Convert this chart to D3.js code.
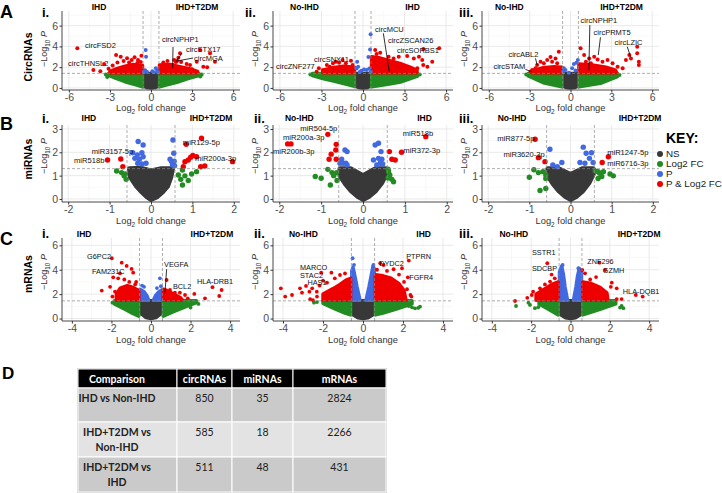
<!DOCTYPE html>
<html lang="en">
<head>
<meta charset="UTF-8" />
<title>Differential expression volcano plots</title>
<script src="https://d3js.org/d3.v7.min.js"></script>
<style>
  body { margin: 0; background: #fff; }
  svg { display: block; font-family: "Liberation Sans", Arial, sans-serif; }
  .tab { font-family: Lato, "Open Sans", sans-serif; }
</style>
</head>
<body>
<svg width="722" height="493"></svg>
<script>
// ---- data: [log2FC, -log10 P] ----
// dense clouds are kept as outlines, sparse points one by one

// A i. circRNAs, IHD vs IHD+T2DM
const circ1Ns   = [[-0.58,1.4],[0.58,1.4],[0.58,0.2],[0.3,0.03],[0,0],[-0.3,0.03],[-0.58,0.2]];
const circ1FcL  = [[-0.62,1.4],[-3.1,1.4],[-3.1,1.2],[-2.6,0.95],[-1.9,0.6],[-1.1,0.3],[-0.62,0.1]];
const circ1FcR  = [[0.62,1.4],[3.5,1.4],[3.5,1.2],[2.7,0.9],[1.9,0.55],[1.1,0.28],[0.62,0.1]];
const circ1SigL = [[-0.62,1.45],[-3.0,1.45],[-3.0,1.6],[-2.5,1.85],[-1.9,2.1],[-1.3,2.25],[-0.62,2.15]];
const circ1SigR = [[0.62,1.45],[3.4,1.45],[3.4,1.6],[2.8,1.85],[2.1,2.05],[1.4,2.25],[0.62,2.2]];
const circ1P    = [[-0.39,3.65],[-0.36,3.0],[-0.43,1.7],[-0.3,1.55],[0.1,1.6],[0.35,1.9],[0.45,1.65],[0.5,1.5],[-0.52,1.55],[0.2,1.5]];
const circ1Sig  = [[-5.38,3.81],[-4.21,1.72],[-3.43,2.3],[-3.1,1.85],[-2.8,2.15],[-2.55,3.17],[-2.21,3.0],[-2.0,2.6],[-1.75,2.85],
  [-1.41,2.69],[-1.2,2.95],[-0.95,2.7],[-0.75,2.5],[-2.45,2.45],[-3.7,1.6],[-1.6,2.45],[-0.7,3.1],[-1.0,2.4],
  [2.12,3.33],[1.7,2.7],[2.2,2.5],[2.6,2.3],[2.85,2.2],[3.34,2.52],[3.58,3.65],[3.82,2.04],[4.31,3.33],[4.67,2.52],
  [4.1,2.0],[1.2,2.6],[0.9,2.45],[2.0,2.9],[1.6,2.2],[3.0,1.8],[1.58,1.92],[1.9,2.59],[1.82,2.49]];
const circ1Fc   = [[-3.3,1.3],[3.7,1.3],[-3.2,1.05],[3.6,1.1]];
const circ1Lab  = [["circFSD2",-4.82,4.13],["circTHNSL2",-6.06,2.4],["circNPHP1",0.8,4.7,1.61,3.94,1.58,1.92],
  ["circSTX17",2.55,3.74,2.26,3.36,1.82,2.49],["circMGA",3.14,2.88,3.07,2.88,1.9,2.59]];

// A ii. circRNAs, No-IHD vs IHD
const circ2Ns   = [[-0.58,1.4],[0.58,1.4],[0.58,0.2],[0.3,0.03],[0,0],[-0.3,0.03],[-0.58,0.2]];
const circ2FcL  = [[-0.62,1.4],[-3.65,1.4],[-3.65,1.2],[-2.9,0.9],[-1.9,0.6],[-0.62,0.15]];
const circ2FcR  = [[0.62,1.4],[3.95,1.4],[3.95,1.15],[2.8,0.6],[1.8,0.35],[0.62,0.12]];
const circ2SigL = [[-0.62,1.45],[-2.9,1.45],[-2.9,1.7],[-2.2,1.95],[-1.4,2.1],[-0.62,2.0]];
const circ2SigR = [[0.62,1.45],[3.9,1.45],[3.9,1.7],[3.4,2.0],[2.8,2.3],[2.0,2.6],[1.2,2.9],[0.62,3.0]];
const circ2P    = [[0.55,5.16],[0.51,3.71],[0.39,2.97],[-0.42,2.52],[-0.35,2.04],[-0.11,1.66],[0.07,1.78],[0.27,1.72],
  [0.46,1.88],[0.56,1.55],[-0.23,1.55],[-0.47,1.88]];
const circ2Sig  = [[-3.19,1.89],[-2.61,2.2],[-2.17,2.37],[-1.73,2.43],[-1.24,2.37],[-0.75,2.2],[-2.9,1.7],[-3.35,1.55],
  [-2.4,2.05],[-1.48,2.69],[-1.97,2.53],[-0.87,2.62],
  [0.88,3.65],[0.98,3.26],[1.24,3.39],[1.85,3.0],[2.21,2.84],[2.58,3.0],[3.19,3.07],[3.67,2.84],[4.04,3.0],[4.28,2.68],
  [4.35,2.2],[4.65,2.05],[4.36,3.74],[5.5,3.81],[5.0,2.53],[3.92,1.89],[3.55,1.73]];
const circ2Fc   = [[-3.8,1.3],[4.1,1.3]];
const circ2Lab  = [["circMCU",0.87,5.65,1.47,5.26,1.9,1.56],["circZSCAN26",1.8,4.55],["circSORBS1",2.45,3.58],
  ["circSNX11",-3.54,2.78],["circZNF277",-6.28,2.11]];

// A iii. circRNAs, No-IHD vs IHD+T2DM
const circ3Ns   = [[-0.58,1.4],[0.58,1.4],[0.58,0.2],[0.3,0.03],[0,0],[-0.3,0.03],[-0.58,0.2]];
const circ3FcL  = [[-0.62,1.4],[-3.1,1.4],[-3.1,1.15],[-2.0,0.5],[-0.62,0.1]];
const circ3FcR  = [[0.62,1.4],[3.45,1.4],[3.45,1.1],[2.2,0.45],[0.62,0.1]];
const circ3SigL = [[-0.62,1.45],[-2.8,1.45],[-2.8,1.65],[-2.0,1.95],[-1.2,2.05],[-0.62,2.0]];
const circ3SigR = [[0.62,1.45],[3.4,1.45],[3.3,1.7],[2.6,2.0],[1.6,2.2],[0.62,2.3]];
const circ3P    = [[0.54,2.69],[0.44,2.43],[0.25,2.3],[0.12,1.89],[-0.37,1.73],[-0.49,1.89],[-0.56,1.57],[-0.12,1.47],[0.37,1.67]];
const circ3Sig  = [[-0.86,3.48],[-1.47,2.99],[-1.71,2.69],[-2.2,2.53],[-2.45,2.2],[-1.96,2.37],[-1.1,2.84],[-1.35,2.53],
  [-2.82,1.73],[-2.94,1.57],[-2.57,1.89],[-0.98,2.37],
  [0.74,3.81],[1.0,3.17],[1.37,2.84],[1.74,3.0],[1.99,2.75],[2.35,2.53],[2.72,2.69],[3.09,2.37],[3.46,2.04],[4.07,2.69],
  [4.32,3.17],[4.44,2.84],[4.9,3.97],[4.9,3.33],[5.02,2.53],[5.02,2.2],[3.83,1.89],[1.13,2.53],[1.5,2.37]];
const circ3Fc   = [[-3.25,1.3],[3.6,1.25]];
const circ3Lab  = [["circNPHP1",0.74,6.47,1.42,6.05,1.35,1.72],["circPRMT5",1.69,5.35,2.2,4.87,2.04,3.17],
  ["circLZIC",3.24,4.39,4.17,3.97,4.41,3.0],["circABL2",-4.56,3.26,-2.57,2.85,-2.45,2.2],
  ["circSTAM",-5.66,2.04,-3.31,1.79,-2.87,1.56]];

// B i. miRNAs, IHD vs IHD+T2DM
const mir1Ns  = [[0,-0.02],[0.15,0.1],[0.28,0.3],[0.4,0.55],[0.48,0.95],[0.52,1.3],[0.25,1.3],[0,1.2],[-0.25,1.32],
  [-0.52,1.3],[-0.5,0.95],[-0.35,0.55],[-0.22,0.3],[-0.1,0.1]];
const mir1Fc  = [[-0.83,1.2],[-0.71,1.13],[-0.62,1.07],[-0.65,0.99],[-0.6,0.84],[0.76,1.24],[0.98,1.07],[0.82,0.99],
  [0.72,0.84],[0.9,0.79],[0.76,0.6],[1.1,1.17],[0.66,1.03]];
const mir1P   = [[-0.31,2.46],[-0.19,2.31],[-0.44,1.98],[-0.33,1.89],[-0.22,1.98],[-0.39,1.74],[-0.28,1.7],[-0.19,1.81],
  [-0.32,1.53],[-0.22,1.5],[-0.12,1.53],[0.53,2.53],[0.55,1.96],[0.5,1.6],[0.54,1.53],[0.46,1.7],[0.56,1.62],[0.52,1.46],[0.57,1.42]];
const mir1Sig = [[-1.05,1.67],[-0.73,1.71],[-0.68,1.38],[0.85,2.34],[1.22,2.6],[0.96,1.79],[1.01,1.86],[0.9,1.67],
  [0.82,1.6],[0.78,1.38],[1.2,1.38],[1.3,1.41],[1.97,1.6],[1.1,1.81]];
const mir1Lab = [["miR518b",-1.86,1.67],["miR3157-5p",-1.43,2.03],["miR129-5p",0.77,2.41],["miR200a-3p",1.06,1.74]];

// B ii. miRNAs, No-IHD vs IHD
const mir2Ns  = [[0,-0.02],[0.15,0.12],[0.3,0.35],[0.45,0.7],[0.55,1.05],[0.55,1.3],[0.3,1.3],[0,1.0],[-0.3,1.3],
  [-0.55,1.3],[-0.55,1.0],[-0.42,0.65],[-0.28,0.35],[-0.12,0.1]];
const mir2Fc  = [[-1.14,0.96],[-1.0,0.89],[-0.78,0.6],[-0.84,1.27],[-0.74,1.13],[-0.63,1.13],[-0.62,0.79],[-0.7,1.0],
  [0.61,1.17],[0.64,1.03],[0.69,0.84],[0.73,0.74],[0.6,0.9],[0.6,1.28]];
const mir2P   = [[-0.43,2.1],[-0.38,2.03],[-0.51,1.7],[-0.48,1.53],[-0.41,1.53],[-0.38,1.46],[-0.55,1.53],[0.29,2.31],
  [0.37,2.39],[0.43,2.03],[0.25,1.67],[0.37,1.74],[0.45,1.7],[0.41,1.53],[0.33,1.46],[0.47,1.5]];
const mir2Sig = [[-1.8,2.36],[-1.72,2.36],[-0.84,2.77],[-0.64,2.34],[-0.65,2.1],[-0.76,1.92],[-0.64,1.7],[-0.81,1.7],
  [1.5,2.67],[0.63,2.03],[0.92,2.0],[0.69,1.7],[0.77,1.67]];
const mir2Lab = [["miR504-5p",-1.5,3.03],["miR200a-3p",-1.91,2.63],["miR200b-3p",-2.15,2.06],["miR518b",0.95,2.82],["miR372-3p",0.96,2.07]];

// B iii. miRNAs, No-IHD vs IHD+T2DM
const mir3Ns  = [[0,-0.02],[0.15,0.12],[0.3,0.35],[0.45,0.7],[0.55,1.05],[0.55,1.3],[0.3,1.3],[0,1.05],[-0.3,1.3],
  [-0.55,1.3],[-0.55,1.0],[-0.42,0.65],[-0.28,0.35],[-0.12,0.1]];
const mir3Fc  = [[-1.0,0.93],[-0.89,1.25],[-0.78,1.13],[-0.67,1.17],[-0.6,1.03],[-0.6,0.88],[-0.74,0.36],[-0.6,0.45],
  [0.67,1.17],[0.71,1.1],[0.76,0.96],[0.67,0.88],[0.96,1.07],[1.04,0.99],[0.8,1.17],[0.6,1.2]];
const mir3P   = [[-0.5,2.13],[-0.21,1.56],[-0.32,1.38],[-0.43,1.46],[0.31,2.22],[0.38,1.96],[0.51,1.98],[0.46,1.74],
  [0.23,1.56],[0.35,1.53],[0.55,1.56]];
const mir3Sig = [[-0.86,2.56],[-0.78,1.77],[-0.62,1.6],[0.92,1.81],[0.77,1.56]];
const mir3Lab = [["miR877-5p",-1.78,2.6],["miR3620-3p",-1.63,1.92],["miR1247-5p",0.89,1.98],["miR6716-3p",0.89,1.53]];

// C i. mRNAs, IHD vs IHD+T2DM
const m1Ns   = [[-0.58,1.45],[0.58,1.45],[0.58,0.5],[0.25,0.08],[0,0],[-0.25,0.08],[-0.58,0.5]];
const m1FcL  = [[-0.62,1.45],[-1.85,1.45],[-1.85,1.2],[-1.3,0.75],[-0.9,0.4],[-0.62,0.2]];
const m1FcR  = [[0.62,1.45],[2.3,1.45],[2.3,1.3],[1.8,1.0],[1.2,0.6],[0.62,0.2]];
const m1PL   = [[-0.56,1.5],[-0.12,1.5],[-0.2,1.85],[-0.35,2.2],[-0.56,2.4]];
const m1PR   = [[0.12,1.5],[0.56,1.5],[0.56,2.35],[0.4,2.2],[0.22,1.85]];
const m1SigL = [[-0.62,1.5],[-1.75,1.5],[-1.75,2.0],[-1.55,2.5],[-1.2,2.7],[-0.9,2.55],[-0.62,2.3]];
const m1SigR = [[0.62,1.5],[1.6,1.5],[1.5,1.7],[1.1,2.05],[0.8,2.3],[0.62,2.4]];
const m1P    = [[0.45,3.3],[-0.35,2.6],[0.3,2.5],[-0.45,2.7],[0.5,2.65]];
const m1Sig  = [[-1.98,4.94],[-1.48,4.58],[-1.23,4.31],[-0.98,4.07],[-0.9,3.76],[-1.57,3.71],[-2.49,2.29],[-1.91,3.38],
  [-1.66,3.3],[-1.35,3.2],[-0.75,3.0],[-2.07,2.6],[-1.82,2.2],[-1.1,3.0],[-0.8,2.8],[-1.95,1.8],
  [0.79,3.16],[0.96,2.34],[1.21,2.12],[1.46,2.12],[1.72,1.93],[2.19,2.02],[2.73,1.66],[3.11,2.57],[3.57,2.34],
  [3.45,1.85],[1.86,1.66],[0.71,2.12],[1.3,1.8]];
const m1Fc   = [[2.4,1.2],[2.0,0.9],[-1.95,1.3]];
const m1Lab  = [["G6PC2",-3.23,5.07],["FAM231C",-2.98,3.84],["VEGFA",0.66,4.45,0.79,4.04,0.71,2.12],["BCL2",1.11,2.67],["HLA-DRB1",2.32,3.08]];

// C ii. mRNAs, No-IHD vs IHD
const m2Ns   = [[-0.58,1.45],[0.58,1.45],[0.58,0.4],[0.25,0.06],[0,0],[-0.25,0.06],[-0.58,0.4]];
const m2FcL  = [[-0.62,1.45],[-2.0,1.45],[-2.0,1.25],[-1.4,0.8],[-0.9,0.45],[-0.62,0.3]];
const m2FcR  = [[0.62,1.45],[2.45,1.45],[2.45,1.2],[1.7,0.8],[1.0,0.45],[0.62,0.3]];
const m2PL   = [[-0.56,1.5],[-0.15,1.5],[-0.3,2.6],[-0.42,3.6],[-0.5,4.2],[-0.56,3.9]];
const m2PR   = [[0.15,1.5],[0.56,1.5],[0.56,4.1],[0.5,4.3],[0.42,3.6],[0.3,2.6]];
const m2SigL = [[-0.62,1.5],[-2.0,1.5],[-2.0,2.0],[-1.5,2.45],[-1.15,2.8],[-0.85,3.15],[-0.62,3.3]];
const m2SigR = [[0.62,1.5],[2.15,1.5],[2.05,2.3],[1.8,2.85],[1.4,3.3],[1.0,3.5],[0.62,3.6]];
const m2P    = [[-0.52,4.94],[0.52,4.39],[-0.45,4.4]];
const m2Sig  = [[-4.11,2.48],[-3.89,1.8],[-3.55,1.93],[-3.15,2.48],[-3.05,2.12],[-2.85,2.67],[-2.68,2.2],[-2.54,2.48],
  [-2.31,2.2],[-2.64,1.58],[-2.5,1.5],[-2.09,3.76],[-1.58,3.76],[-1.8,2.94],[-2.0,3.1],[-2.17,2.7],[-1.41,3.3],
  [-1.15,3.57],[-0.9,3.7],[-2.3,1.8],
  [1.53,4.04],[1.95,4.12],[2.29,4.75],[2.24,3.38],[2.37,1.93],[2.42,1.8],[1.03,4.39],[0.86,4.53],[1.8,3.6],
  [2.05,3.0],[2.2,2.4],[1.2,3.9],[0.7,4.0]];
const m2Fc   = [[2.29,1.03],[2.45,0.92],[2.6,0.84],[2.76,0.87],[2.85,0.97],[-2.3,1.35],[-2.45,1.3]];
const m2Lab  = [["MARCO",-3.15,4.2],["STAC2",-3.15,3.57],["HAS1",-2.78,2.94],["PTPRN",2.16,5.07],["DYDC2",0.81,4.48],["FGFR4",2.31,3.39]];

// C iii. mRNAs, No-IHD vs IHD+T2DM
const m3Ns   = [[-0.58,1.45],[0.58,1.45],[0.58,0.4],[0.25,0.06],[0,0],[-0.25,0.06],[-0.58,0.4]];
const m3FcL  = [[-0.62,1.45],[-1.6,1.45],[-1.6,1.2],[-1.1,0.75],[-0.62,0.3]];
const m3FcR  = [[0.62,1.45],[2.3,1.45],[2.3,1.2],[1.5,0.75],[0.62,0.3]];
const m3PL   = [[-0.56,1.5],[-0.15,1.5],[-0.28,2.6],[-0.36,3.6],[-0.45,4.3],[-0.56,3.8]];
const m3PR   = [[0.15,1.5],[0.56,1.5],[0.56,3.8],[0.45,4.1],[0.36,3.5],[0.28,2.6]];
const m3SigL = [[-0.62,1.5],[-1.75,1.5],[-1.75,2.0],[-1.3,2.45],[-0.95,2.8],[-0.62,3.0]];
const m3SigR = [[0.62,1.5],[1.9,1.5],[1.85,2.1],[1.5,2.55],[1.0,2.9],[0.62,3.0]];
const m3P    = [[-0.4,4.39],[0.4,4.12]];
const m3Sig  = [[-1.18,4.53],[-1.04,3.03],[-1.55,2.48],[-1.97,1.93],[-1.9,2.2],[-2.82,1.44],[-0.96,3.6],[-0.8,3.3],
  [-1.3,2.8],[-2.2,1.7],
  [0.6,3.98],[0.74,3.71],[1.47,4.58],[1.76,3.98],[2.1,2.94],[2.35,2.48],[3.32,1.93],[3.67,1.8],[2.35,1.6],
  [2.05,2.6],[1.3,3.4],[1.0,3.2],[2.6,1.6]];
const m3Fc   = [[-2.77,1.03],[-2.06,1.12],[-1.81,0.85],[-1.64,0.93],[-2.14,1.3],[2.52,0.9],[2.69,0.85],[2.6,1.03]];
const m3Lab  = [["SSTR1",-1.96,5.4],["SDCBP",-1.96,4.12],["ZNF296",0.85,4.68],["GZMH",1.64,3.96],["HLA-DQB1",2.66,2.26]];

// group labels above each panel: [text, log2FC position]
const headsA = [[["IHD",-3.8],["IHD+T2DM",3.36]], [["No-IHD",-4.23],["IHD",3.58]], [["No-IHD",-4.49],["IHD+T2DM",3.75]]];
const headsB = [[["IHD",-1.5],["IHD+T2DM",1.45]], [["No-IHD",-1.52],["IHD",1.47]], [["No-IHD",-1.42],["IHD+T2DM",1.69]]];
const headsC = [[["IHD",-3.38],["IHD+T2DM",3.08]], [["No-IHD",-2.98],["IHD",3.03]], [["No-IHD",-2.88],["IHD+T2DM",3.49]]];

const keyLabels = ["NS", "Log2 FC", "P", "P & Log2 FC"];
const keyGroups = ["ns", "fc", "p", "sig"];

const tableHead = ["Comparison", "circRNAs", "miRNAs", "mRNAs"];
const tableRows = [
  [["IHD vs Non-IHD"], 850, 35, 2824],
  [["IHD+T2DM vs", "Non-IHD"], 585, 18, 2266],
  [["IHD+T2DM vs", "IHD"], 511, 48, 431]
];

// ---- layout ----
const colors = { ns: "#383838", fc: "#228b22", p: "#4169e1", sig: "#ee0000" };
const cols = [[62, 240], [273, 453], [482, 659]];
const rowSpec = {
  A: { xd: [-6.5, 6.5], yd: [-0.2, 7.41], yr: [90, 11], xt: [-6,-3,0,3,6], xm: [-4.5,-1.5,1.5,4.5],
       yt: [0,2,4,6], ym: [1,3,5,7], pc: 1.4, r: 2, sw: 3.5, fs: 7.5,
       letter: "A", name: "CircRNAs", nameY: 57, letterY: 18, idxY: 17, idxX: [42,245,459], headY: 10, titleY: 111, yTitleY: 49 },
  B: { xd: [-2.15, 2.15], yd: [-0.13, 3.17], yr: [202, 125], xt: [-2,-1,0,1,2], xm: [-1.5,-0.5,0.5,1.5],
       yt: [0,1,2,3], ym: [0.5,1.5,2.5], pc: 1.3, r: 2.7, sw: 5, fs: 7.6,
       letter: "B", name: "miRNAs", nameY: 159, letterY: 130, idxY: 123, idxX: [42,254,459], headY: 121, titleY: 224, yTitleY: 156 },
  C: { xd: [-4.5, 4.5], yd: [-0.2, 6.6], yr: [321, 238], xt: [-4,-2,0,2,4], xm: [-3,-1,1,3],
       yt: [0,2,4,6], ym: [1,3,5], pc: 1.45, r: 1.9, sw: 3.5, fs: 7.3,
       letter: "C", name: "mRNAs", nameY: 274, letterY: 245, idxY: 238, idxX: [42,254,459], headY: 237, titleY: 343, yTitleY: 272 }
};
const idxText = ["i.", "ii.", "iii."];

const panels = [
  { row: "A", col: 0, heads: headsA[0], blobs: [[circ1Ns,"ns"],[circ1FcL,"fc"],[circ1FcR,"fc"],[circ1SigL,"sig"],[circ1SigR,"sig"]], fc: circ1Fc, p: circ1P, sig: circ1Sig, labels: circ1Lab },
  { row: "A", col: 1, heads: headsA[1], blobs: [[circ2Ns,"ns"],[circ2FcL,"fc"],[circ2FcR,"fc"],[circ2SigL,"sig"],[circ2SigR,"sig"]], fc: circ2Fc, p: circ2P, sig: circ2Sig, labels: circ2Lab },
  { row: "A", col: 2, heads: headsA[2], blobs: [[circ3Ns,"ns"],[circ3FcL,"fc"],[circ3FcR,"fc"],[circ3SigL,"sig"],[circ3SigR,"sig"]], fc: circ3Fc, p: circ3P, sig: circ3Sig, labels: circ3Lab },
  { row: "B", col: 0, heads: headsB[0], blobs: [[mir1Ns,"ns"]], fc: mir1Fc, p: mir1P, sig: mir1Sig, labels: mir1Lab },
  { row: "B", col: 1, heads: headsB[1], blobs: [[mir2Ns,"ns"]], fc: mir2Fc, p: mir2P, sig: mir2Sig, labels: mir2Lab },
  { row: "B", col: 2, heads: headsB[2], blobs: [[mir3Ns,"ns"]], fc: mir3Fc, p: mir3P, sig: mir3Sig, labels: mir3Lab },
  { row: "C", col: 0, heads: headsC[0], blobs: [[m1Ns,"ns"],[m1FcL,"fc"],[m1FcR,"fc"],[m1PL,"p"],[m1PR,"p"],[m1SigL,"sig"],[m1SigR,"sig"]], fc: m1Fc, p: m1P, sig: m1Sig, labels: m1Lab },
  { row: "C", col: 1, heads: headsC[1], blobs: [[m2Ns,"ns"],[m2FcL,"fc"],[m2FcR,"fc"],[m2PL,"p"],[m2PR,"p"],[m2SigL,"sig"],[m2SigR,"sig"]], fc: m2Fc, p: m2P, sig: m2Sig, labels: m2Lab },
  { row: "C", col: 2, heads: headsC[2], blobs: [[m3Ns,"ns"],[m3FcL,"fc"],[m3FcR,"fc"],[m3PL,"p"],[m3PR,"p"],[m3SigL,"sig"],[m3SigR,"sig"]], fc: m3Fc, p: m3P, sig: m3Sig, labels: m3Lab }
];

const svg = d3.select("svg");

function drawPanel(p) {
  const R = rowSpec[p.row], C = cols[p.col];
  const x = d3.scaleLinear().domain(R.xd).range(C);
  const y = d3.scaleLinear().domain(R.yd).range(R.yr);
  const [yb, yt] = R.yr;
  const g = svg.append("g");

  // grid, minor then major
  const grid = (vals, vert, col, w) => g.append("g").selectAll("line").data(vals).join("line")
    .attr("x1", d => vert ? x(d) : C[0]).attr("x2", d => vert ? x(d) : C[1])
    .attr("y1", d => vert ? yt : y(d)).attr("y2", d => vert ? yb : y(d))
    .attr("stroke", col).attr("stroke-width", w);
  grid(R.xm, true, "#f3f3f3", 0.6); grid(R.ym, false, "#f3f3f3", 0.6);
  grid(R.xt, true, "#e6e6e6", 0.9); grid(R.yt, false, "#e6e6e6", 0.9);

  // dense clouds
  const shape = d3.line().x(d => x(d[0])).y(d => y(d[1])).curve(d3.curveLinearClosed);
  g.append("g").selectAll("path").data(p.blobs).join("path")
    .attr("d", b => shape(b[0]))
    .attr("fill", b => colors[b[1]]).attr("stroke", b => colors[b[1]])
    .attr("stroke-width", R.sw).attr("stroke-linejoin", "round");

  // single points
  const pts = [].concat(p.fc.map(d => [d, "fc"]), p.p.map(d => [d, "p"]), p.sig.map(d => [d, "sig"]));
  g.append("g").selectAll("circle").data(pts).join("circle")
    .attr("cx", d => x(d[0][0])).attr("cy", d => y(d[0][1])).attr("r", R.r)
    .attr("fill", d => colors[d[1]]);

  // cut-offs
  g.append("g").selectAll("line").data([-0.58, 0.58]).join("line")
    .attr("x1", x).attr("x2", x).attr("y1", yt).attr("y2", yb)
    .attr("stroke", "#8a8a8a").attr("stroke-width", 0.7).attr("stroke-dasharray", "3,2");
  g.append("line").attr("x1", C[0]).attr("x2", C[1]).attr("y1", y(R.pc)).attr("y2", y(R.pc))
    .attr("stroke", "#8a8a8a").attr("stroke-width", 0.7).attr("stroke-dasharray", "3,2");

  // axes
  const xa = g.append("g").attr("transform", `translate(0,${yb})`)
    .call(d3.axisBottom(x).tickValues(R.xt).tickSize(2.5).tickSizeOuter(0).tickPadding(1).tickFormat(d => String(d)));
  const ya = g.append("g").attr("transform", `translate(${C[0]},0)`)
    .call(d3.axisLeft(y).tickValues(R.yt).tickSize(2.5).tickSizeOuter(0).tickPadding(1.5).tickFormat(d => String(d)));
  [xa, ya].forEach(a => {
    a.select(".domain").attr("stroke", "#333").attr("stroke-width", 0.9);
    a.selectAll(".tick line").attr("stroke", "#333");
    a.selectAll(".tick text").attr("fill", "#4d4d4d").style("font-size", "10.5px");
  });
  xa.select(".domain").attr("d", `M${C[0]},0H${C[1]}`);
  ya.select(".domain").attr("d", `M0,${yb}V${yt}`);

  // axis titles
  const xt = g.append("text").attr("x", (C[0] + C[1]) / 2).attr("y", R.titleY)
    .attr("text-anchor", "middle").attr("fill", "#333").style("font-size", "9.3px");
  xt.append("tspan").text("Log");
  xt.append("tspan").attr("dy", 2.5).style("font-size", "6.5px").text("2");
  xt.append("tspan").attr("dy", -2.5).text(" fold change");
  const yT = g.append("text").attr("transform", `translate(${C[0] - 15},${R.yTitleY}) rotate(-90)`)
    .attr("text-anchor", "middle").attr("fill", "#333").style("font-size", "9px");
  yT.append("tspan").text("\u2212Log");
  yT.append("tspan").attr("dy", 2.5).style("font-size", "6.3px").text("10");
  yT.append("tspan").attr("dy", -2.5).text(" ");
  yT.append("tspan").style("font-style", "italic").text("P");

  // group headers
  g.append("g").selectAll("text").data(p.heads).join("text")
    .attr("x", d => x(d[1])).attr("y", R.headY).attr("text-anchor", "middle")
    .style("font-size", "8.5px").style("font-weight", "bold").text(d => d[0]);

  // gene labels with connectors
  const conn = p.labels.filter(d => d.length > 3);
  g.append("g").selectAll("line").data(conn).join("line")
    .attr("x1", d => x(d[3])).attr("y1", d => y(d[4])).attr("x2", d => x(d[5])).attr("y2", d => y(d[6]))
    .attr("stroke", "#000").attr("stroke-width", 0.8);
  g.append("g").selectAll("text").data(p.labels).join("text")
    .attr("x", d => x(d[1])).attr("y", d => y(d[2])).attr("dy", "0.35em")
    .attr("fill", "#111").style("font-size", R.fs + "px").text(d => d[0]);

  // panel index
  svg.append("text").attr("x", R.idxX[p.col]).attr("y", R.idxY)
    .style("font-size", "13px").style("font-weight", "bold").text(idxText[p.col]);
}

panels.forEach(drawPanel);

// row letters and names
Object.values(rowSpec).forEach(R => {
  svg.append("text").attr("x", 0).attr("y", R.letterY).style("font-size", "18px").style("font-weight", "bold").text(R.letter);
  svg.append("text").attr("transform", `translate(32,${R.nameY}) rotate(-90)`).attr("text-anchor", "middle")
    .style("font-size", "10.5px").style("font-weight", "bold").text(R.name);
});

// key
const key = svg.append("g");
key.append("text").attr("x", 666).attr("y", 143).style("font-size", "14px").style("font-weight", "bold").text("KEY:");
const ky = d3.scalePoint().domain(keyLabels).range([154, 184]);
key.selectAll("circle").data(keyLabels).join("circle")
  .attr("cx", 660).attr("cy", d => ky(d)).attr("r", 3).attr("fill", (d, i) => colors[keyGroups[i]]);
key.selectAll("text.k").data(keyLabels).join("text").attr("class", "k")
  .attr("x", 666).attr("y", d => ky(d)).attr("dy", "0.35em").style("font-size", "9.8px").attr("fill", "#222").text(d => d);

// D: table
svg.append("text").attr("x", 2).attr("y", 379).style("font-size", "17px").style("font-weight", "bold").text("D");
const tx = d3.scaleOrdinal().domain(tableHead).range([78, 177, 232, 293]);
const colEnd = [177, 232, 293, 386];
const rowTop = [369, 388, 422, 457], rowBot = [388, 422, 457, 492];
const tab = svg.append("g").attr("class", "tab");
tab.append("rect").attr("x", 77.5).attr("y", 368.5).attr("width", 309).attr("height", 124).attr("fill", "none").attr("stroke", "#c6c6c6");
tab.selectAll("rect.hd").data(tableHead).join("rect").attr("class", "hd")
  .attr("x", d => tx(d)).attr("y", rowTop[0]).attr("width", (d, i) => colEnd[i] - tx(d)).attr("height", rowBot[0] - rowTop[0])
  .attr("fill", "#000").attr("stroke", "#fff").attr("stroke-width", 1);
tab.selectAll("text.hd").data(tableHead).join("text").attr("class", "hd")
  .attr("x", (d, i) => i === 0 ? 117 : (tx(d) + colEnd[i]) / 2).attr("y", 383).attr("text-anchor", "middle")
  .attr("fill", "#fff").style("font-size", "10.5px").style("font-weight", "bold").text(d => d);
tableRows.forEach((row, r) => {
  const fill = r === 1 ? "#e3e3e3" : "#cacaca";
  const top = rowTop[r + 1];
  tab.append("g").selectAll("rect").data(tableHead).join("rect")
    .attr("x", d => tx(d)).attr("y", top).attr("width", (d, i) => colEnd[i] - tx(d)).attr("height", rowBot[r + 1] - top)
    .attr("fill", fill).attr("stroke", "#fff").attr("stroke-width", 1);
  row[0].forEach((line, k) => {
    tab.append("text").attr("x", 117).attr("y", top + 14 + k * 15).attr("text-anchor", "middle")
      .attr("fill", "#222").style("font-size", "10.5px").style("font-weight", "bold").text(line);
  });
  tab.append("g").selectAll("text").data(row.slice(1)).join("text")
    .attr("x", (d, i) => (tx(tableHead[i + 1]) + colEnd[i + 1]) / 2).attr("y", top + 14).attr("text-anchor", "middle")
    .attr("fill", "#222").style("font-size", "10.5px").text(d => d);
});
</script>
</body>
</html>
